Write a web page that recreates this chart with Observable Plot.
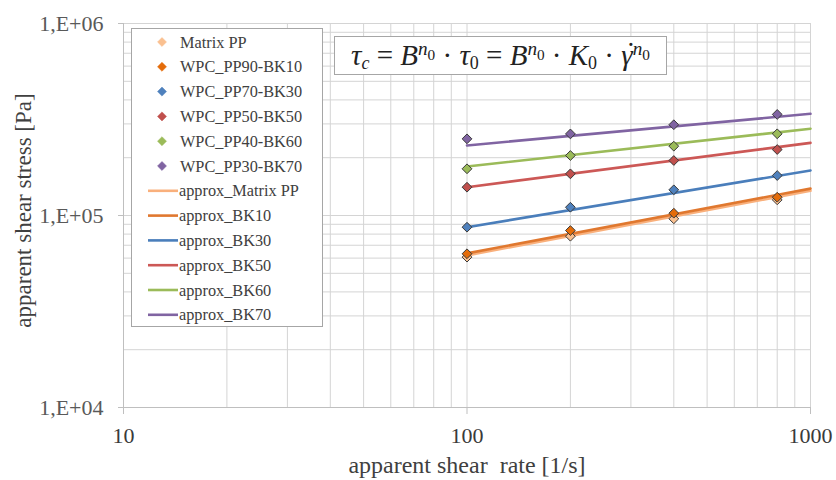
<!DOCTYPE html>
<html>
<head>
<meta charset="utf-8">
<script src="https://cdn.jsdelivr.net/npm/d3@7"></script>
<script src="https://cdn.jsdelivr.net/npm/@observablehq/plot@0.6"></script>
<style>
  html, body { margin: 0; padding: 0; background: #fff; }
  #wrap { position: relative; width: 836px; height: 480px; overflow: hidden; font-family: "Liberation Serif", serif; }
  #legend { position: absolute; left: 131px; top: 28px; width: 190px; height: 297px; border: 1.5px solid #a6a6a6; background: #fff; }
  #formula { position: absolute; left: 334px; top: 36px; width: 331px; height: 37px; border: 1.5px solid #a6a6a6; background: #fff;
    font-family: "Liberation Serif", serif; font-size: 29px; color: #222; text-align: center; line-height: 37px; white-space: nowrap; }
  #formula i { font-style: italic; }
  #formula sub { font-size: 0.62em; vertical-align: -0.25em; line-height: 0; }
  #formula sup { font-size: 0.66em; vertical-align: 0.5em; line-height: 0; }
  #formula sup sub { font-size: 0.8em; vertical-align: -0.3em; }
  #formula .dot { position: relative; display: inline-block; }
  #formula .dot::after { content: "˙"; position: absolute; left: 0.16em; top: -0.08em; font-style: normal; }
</style>
</head>
<body>
<div id="wrap"></div>
<script>
// ---- data ----
const shearRate = [100, 200, 400, 800];
const matrixPP = [60700, 78000, 96100, 120700];
const pp90bk10 = [63200, 83500, 102800, 124500];
const pp70bk30 = [86900, 110400, 136100, 161500];
const pp50bk50 = [140400, 164800, 193400, 220600];
const pp40bk60 = [175100, 205300, 229600, 266400];
const pp30bk70 = [250800, 266000, 297000, 336000];

// approximation lines (power law, straight in log-log), values at the ends
const approxRate = [100, 1000];
const approxMatrix = [62000, 134500];
const approxBK10 = [63500, 138000];
const approxBK30 = [86900, 171600];
const approxBK50 = [140400, 239000];
const approxBK60 = [179900, 283000];
const approxBK70 = [231700, 338600];

const pointNames = ["Matrix PP", "WPC_PP90-BK10", "WPC_PP70-BK30", "WPC_PP50-BK50", "WPC_PP40-BK60", "WPC_PP30-BK70"];
const lineNames = ["approx_Matrix PP", "approx_BK10", "approx_BK30", "approx_BK50", "approx_BK60", "approx_BK70"];
const markerColors = ["#FAC090", "#E46C0A", "#4F81BD", "#C0504D", "#9BBB59", "#8064A2"];
const lineColors = ["#F9B07C", "#E0782F", "#4A7EBB", "#CC5856", "#9BBB59", "#8064A2"];

const xTicks = [10, 100, 1000];
const yTicks = [1e4, 1e5, 1e6];
const yTickLabels = ["1,E+04", "1,E+05", "1,E+06"];
const xTitle = "apparent shear  rate [1/s]";
const yTitle = "apparent shear stress [Pa]";

// ---- tables ----
const pointSeries = [matrixPP, pp90bk10, pp70bk30, pp50bk50, pp40bk60, pp30bk70];
const lineSeries = [approxMatrix, approxBK10, approxBK30, approxBK50, approxBK60, approxBK70];
const points = pointSeries.flatMap((vals, s) => vals.map((v, i) => ({s, x: shearRate[i], y: v})));
const lines = lineSeries.flatMap((vals, s) => vals.map((v, i) => ({s, x: approxRate[i], y: v})));

// log gridlines (major + minor)
const xGrid = [10, 100].flatMap(d => d3.range(1, 10).map(k => d * k)).concat([1000]);
const yGrid = [1e4, 1e5].flatMap(d => d3.range(1, 10).map(k => d * k)).concat([1e6]);

const chart = Plot.plot({
  width: 836, height: 480,
  marginLeft: 123, marginRight: 26, marginTop: 23, marginBottom: 73,
  style: {fontFamily: "Liberation Serif, serif", background: "transparent"},
  x: {type: "log", domain: [10, 1000], axis: null},
  y: {type: "log", domain: [1e4, 1e6], axis: null},
  marks: [
    Plot.ruleX(xGrid, {stroke: "#d4d4d4", strokeWidth: 1}),
    Plot.ruleY(yGrid, {stroke: "#d4d4d4", strokeWidth: 1}),
    Plot.ruleX([10], {stroke: "#bfbfbf"}),
    Plot.ruleY([1e4], {stroke: "#bfbfbf"}),
    Plot.axisX(xTicks, {tickSize: 7, tickPadding: 13, fontSize: 22, stroke: "#bfbfbf", fill: "#3a3a3a", tickFormat: d => String(d), label: null}),
    Plot.axisY(yTicks, {tickSize: 5, tickPadding: 15, fontSize: 22, stroke: "#bfbfbf", fill: "#595959", tickFormat: d => yTickLabels[yTicks.indexOf(d)], label: null}),
    Plot.line(lines, {x: "x", y: "y", z: "s", stroke: d => lineColors[d.s], strokeWidth: 2.6}),
    Plot.dot(points, {x: "x", y: "y", symbol: "diamond2", r: 4.4, fill: d => markerColors[d.s], stroke: "#3a3a3a", strokeWidth: 1}),
    Plot.text([xTitle], {frameAnchor: "bottom", text: d => d, dy: 58, fontSize: 24, fill: "#404040", lineAnchor: "middle"}),
    Plot.text([yTitle], {frameAnchor: "left", text: d => d, textAnchor: "middle", dx: -100, dy: -5, fontSize: 23, fill: "#404040", rotate: -90, lineAnchor: "middle"})
  ]
});

const wrap = document.getElementById("wrap");
wrap.appendChild(chart);

// ---- legend ----
const legend = document.createElement("div");
legend.id = "legend";
wrap.appendChild(legend);
const lsvg = d3.select(legend).append("svg").attr("width", 190).attr("height", 297)
  .style("position", "absolute").style("left", "0").style("top", "0");
const rowH = 24.8;
pointNames.forEach((name, i) => {
  const cy = 13 + i * rowH;
  lsvg.append("path").attr("d", d3.symbol(d3.symbolDiamond2, 52)()).attr("transform", `translate(30,${cy})`)
    .attr("fill", markerColors[i]).attr("stroke", markerColors[i]).attr("stroke-width", 0.5);
  lsvg.append("text").attr("x", 48).attr("y", cy).attr("dy", "0.34em").attr("font-size", 16.3)
    .attr("font-family", "Liberation Serif, serif").attr("fill", "#404040").text(name);
});
lineNames.forEach((name, j) => {
  const i = j + pointNames.length;
  const cy = 13 + i * rowH;
  lsvg.append("line").attr("x1", 16).attr("x2", 46).attr("y1", cy).attr("y2", cy)
    .attr("stroke", lineColors[j]).attr("stroke-width", 2.6);
  lsvg.append("text").attr("x", 47).attr("y", cy).attr("dy", "0.34em").attr("font-size", 16.3)
    .attr("font-family", "Liberation Serif, serif").attr("fill", "#404040").text(name);
});

// ---- formula box ----
const formula = document.createElement("div");
formula.id = "formula";
formula.innerHTML = "<i>τ</i><sub><i>c</i></sub> = <i>B</i><sup><i>n</i><sub>0</sub></sup> · <i>τ</i><sub>0</sub> = <i>B</i><sup><i>n</i><sub>0</sub></sup> · <i>K</i><sub>0</sub> · <i class=\"dot\">γ</i><sup><i>n</i><sub>0</sub></sup>";
wrap.appendChild(formula);
</script>
</body>
</html>
